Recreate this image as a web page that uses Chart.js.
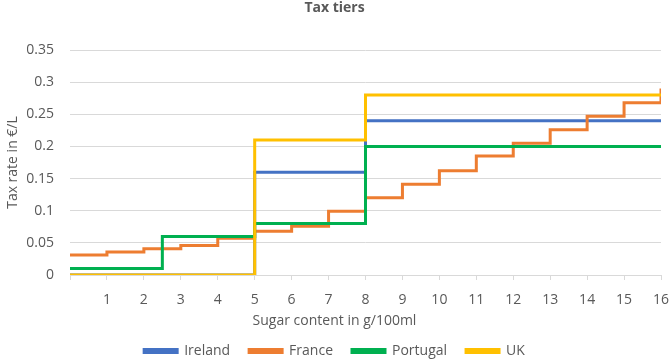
<!DOCTYPE html>
<html>
<head>
<meta charset="utf-8">
<script src="https://cdn.jsdelivr.net/npm/chart.js@4"></script>
<style>
  body { margin: 0; background: #fff; }
</style>
</head>
<body>
<canvas id="taxChart" width="669" height="361"></canvas>
<script>
// sugar content (g/100ml) where each tier starts, and the rate (€/L) from there on
var franceLevels = [0, 1, 2, 3, 4, 5, 6, 7, 8, 9, 10, 11, 12, 13, 14, 15, 16];
var franceRates = [0.031, 0.036, 0.041, 0.046, 0.057, 0.068, 0.076, 0.099, 0.12, 0.141, 0.162, 0.185, 0.205, 0.226, 0.247, 0.268, 0.29];
var irelandLevels = [0, 5, 8, 16];
var irelandRates = [0, 0.16, 0.24, 0.24];
var portugalLevels = [0, 2.5, 5, 8, 16];
var portugalRates = [0.01, 0.06, 0.08, 0.2, 0.2];
var ukLevels = [0, 5, 8, 16];
var ukRates = [0, 0.21, 0.28, 0.28];

var countries = ["Ireland", "France", "Portugal", "UK"];
var colors = ["#4472C4", "#ED7D31", "#00B050", "#FFC000"];

function toPoints(xs, ys) {
  return xs.map(function (x, i) {
    return { x: x, y: ys[i] };
  });
}

var series = [
  toPoints(irelandLevels, irelandRates),
  toPoints(franceLevels, franceRates),
  toPoints(portugalLevels, portugalRates),
  toPoints(ukLevels, ukRates)
];

var font = "'Open Sans', 'Liberation Sans', sans-serif";
var textColor = "#595959";
var gridColor = "#D9D9D9";

var ctx = document.getElementById("taxChart");

var chart = new Chart(ctx, {
  type: "line",
  data: {
    datasets: countries.map(function (name, i) {
      return {
        label: name,
        data: series[i],
        borderColor: colors[i],
        backgroundColor: colors[i],
        borderWidth: 3,
        pointRadius: 0,
        stepped: "before",
        order: countries.length - i
      };
    })
  },
  options: {
    responsive: false,
    animation: false,
    devicePixelRatio: 1,
    layout: { padding: { left: 0, right: 0, top: 0, bottom: -7 } },
    plugins: {
      title: {
        display: true,
        text: "Tax tiers",
        color: textColor,
        font: { family: font, size: 14, weight: "bold", lineHeight: 1 },
        padding: { top: 1, bottom: 35 }
      },
      subtitle: {
        display: true,
        position: "bottom",
        weight: 500,
        text: "Sugar content in g/100ml",
        color: textColor,
        font: { family: font, size: 14, lineHeight: 0.57 },
        padding: 0
      },
      legend: {
        position: "bottom",
        labels: {
          color: textColor,
          font: { family: font, size: 14 },
          boxWidth: 33,
          boxHeight: 3,
          padding: 19,
          sort: function (a, b) {
            return a.datasetIndex - b.datasetIndex;
          }
        }
      },
      tooltip: { enabled: false }
    },
    scales: {
      x: {
        type: "linear",
        min: 0,
        max: 16,
        afterFit: function (scale) {
          scale.height = 42;
          scale.paddingLeft = 0;
          scale.paddingRight = 8;
        },
        grid: {
          drawOnChartArea: false,
          drawTicks: true,
          tickLength: 5,
          color: gridColor
        },
        border: { display: true, color: gridColor },
        ticks: {
          stepSize: 1,
          padding: 12,
          maxRotation: 0,
          color: textColor,
          font: { family: font, size: 14 },
          callback: function (v) {
            return v === 0 ? "" : String(v);
          }
        }
      },
      y: {
        min: 0,
        max: 0.35,
        afterFit: function (scale) {
          scale.width = 70;
        },
        grid: { color: gridColor, drawTicks: false },
        border: { display: false },
        title: {
          display: true,
          text: "Tax rate in €/L",
          color: textColor,
          font: { family: font, size: 14 },
          padding: { top: 5, bottom: 0 }
        },
        ticks: {
          stepSize: 0.05,
          padding: 16,
          color: textColor,
          font: { family: font, size: 14 },
          callback: function (v) {
            return String(+v.toFixed(2));
          }
        }
      }
    }
  }
});
</script>
</body>
</html>
